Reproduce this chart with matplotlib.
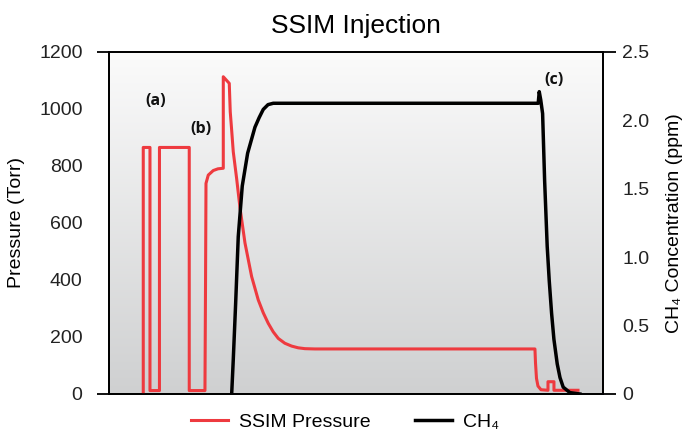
import numpy as np
import matplotlib
matplotlib.use("Agg")
import matplotlib.pyplot as plt
from matplotlib.ticker import FixedLocator

plt.rcParams['font.family'] = ['Liberation Sans', 'DejaVu Sans']

# time axis is arbitrary (no x labels shown), 0-100
pressure_t = [6.94, 6.94, 8.30, 8.30, 10.22, 10.22, 16.25, 16.25, 19.43, 19.55,
              19.64, 20.10, 21.11, 22.06, 23.14, 23.14, 24.35, 24.55, 24.84, 25.16,
              25.85, 26.51, 27.53, 28.88, 30.22, 31.23, 32.24, 33.25, 34.27, 35.60,
              36.98, 38.30, 39.67, 41.70, 86.23, 86.34, 86.54, 86.84, 87.45, 88.87,
              88.87, 90.08, 90.08, 94.94]
pressure_torr = [0, 865, 865, 12, 12, 865, 865, 12, 12, 400,
                 739, 768, 784, 790, 792, 1113, 1090, 990, 925, 850,
                 755, 655, 530, 412, 330, 285, 248, 218, 195, 178,
                 168, 162, 159, 158, 158, 110, 55, 28, 15, 13,
                 43, 43, 13, 13]

ch4_t = [24.84, 25.16, 25.64, 26.17, 26.98, 28.07, 29.55, 30.40, 31.23, 32.20, 33.25,
         86.89, 87.10, 87.40, 87.78, 88.19, 88.71, 89.12, 89.60, 90.07, 90.74,
         91.30, 91.95, 93.31, 95.33]
ch4_ppm = [0.0, 0.25, 0.66, 1.15, 1.52, 1.76, 1.95, 2.02, 2.08, 2.115, 2.125,
           2.125, 2.21, 2.15, 2.05, 1.56, 1.08, 0.83, 0.59, 0.40, 0.22,
           0.12, 0.05, 0.01, 0.0]

left_ticks = [0, 200, 400, 600, 800, 1000, 1200]
right_ticks = [0, 0.5, 1.0, 1.5, 2.0, 2.5]
right_labels = ['0', '0.5', '1.0', '1.5', '2.0', '2.5']

notes = ['(a)', '(b)', '(c)']
note_t = [9.44, 18.62, 90.0]
note_p = [1028, 930, 1102]

red = '#ee3a3f'

fig = plt.figure(figsize=(6.91, 4.32), dpi=100)
ax = fig.add_axes([0.1577, 0.088, 0.7149, 0.7917])
ax2 = ax.twinx()

# gradient background
grad = np.linspace(0, 1, 256).reshape(-1, 1)
cmap = matplotlib.colors.LinearSegmentedColormap.from_list('bg', ['#fbfbfb', '#cfd0d1'])
ax.imshow(grad, aspect='auto', cmap=cmap, extent=[0, 1, 0, 1],
          transform=ax.transAxes, zorder=0)

l1, = ax.plot(pressure_t, pressure_torr, color=red, lw=2.2, zorder=3,
              solid_joinstyle='round', label='SSIM Pressure')
l2, = ax2.plot(ch4_t, ch4_ppm, color='black', lw=2.5, zorder=3,
               solid_joinstyle='round', label='CH₄')

ax.set_xlim(0, 100)
ax.set_ylim(0, 1200)
ax2.set_ylim(0, 2.5)
ax.set_xticks([])

for a in (ax, ax2):
    for s in a.spines.values():
        s.set_linewidth(1.3)
    a.yaxis.remove_overlapping_locs = False

ax.set_yticks(left_ticks)
ax.tick_params(axis='y', which='major', length=0, pad=19, labelsize=14, labelcolor='#222222')
ax.yaxis.set_minor_locator(FixedLocator([0, 1200]))
ax.tick_params(axis='y', which='minor', length=9, width=1.3)

ax2.set_yticks(right_ticks)
ax2.set_yticklabels(right_labels)
ax2.tick_params(axis='y', which='major', length=0, pad=14, labelsize=14, labelcolor='#222222')
ax2.yaxis.set_minor_locator(FixedLocator([0, 2.5]))
ax2.tick_params(axis='y', which='minor', length=9, width=1.3)

ax.set_ylabel('Pressure (Torr)', fontsize=14, labelpad=10)
ax2.set_ylabel('CH₄ Concentration (ppm)', fontsize=14, labelpad=12)
ax.set_title('SSIM Injection', fontsize=19, pad=14)

for txt, tx, ty in zip(notes, note_t, note_p):
    ax.text(tx, ty, txt, ha='center', va='center', fontsize=11.5,
            fontweight='bold', family='Open Sans', color='#111111', zorder=4)

fig.legend(handles=[l1, l2], loc='center', bbox_to_anchor=(0.499, 0.022), ncol=2,
           frameon=False, fontsize=14, handlelength=1.9, handletextpad=0.55,
           columnspacing=2.3)

fig.savefig('out.png', dpi=100)
